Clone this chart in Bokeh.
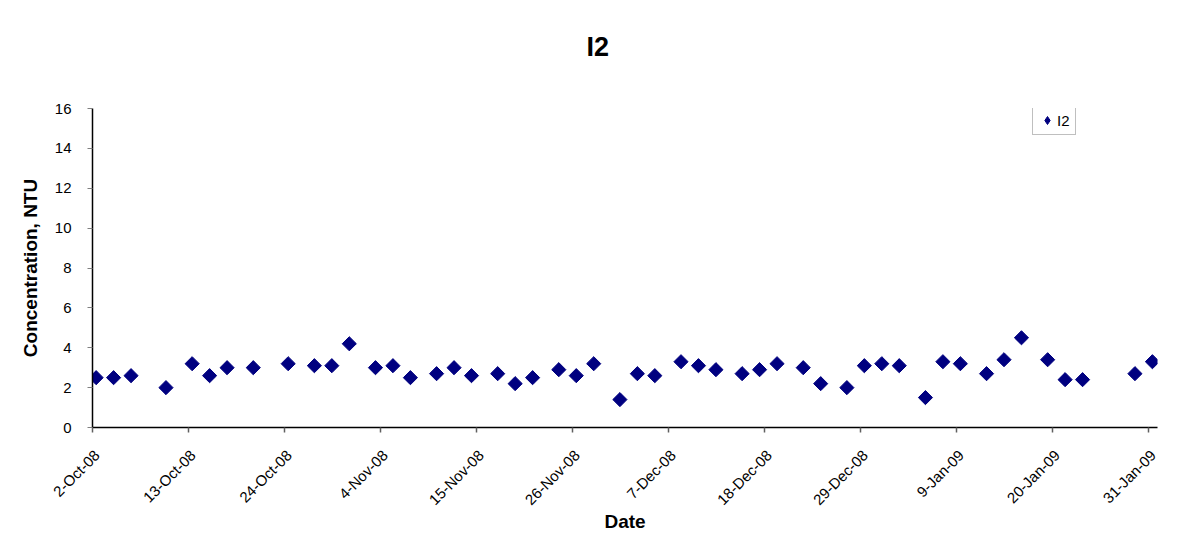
import pandas as pd
from bokeh.plotting import figure
from bokeh.models import (Range1d, FixedTicker, Legend, LegendItem, ColumnDataSource, Title, LinearAxis)
from bokeh.embed import file_html
from bokeh.resources import INLINE
import math

# ---- data ----
dates = ["2008-10-02", "2008-10-04", "2008-10-06", "2008-10-10", "2008-10-13",
         "2008-10-15", "2008-10-17", "2008-10-20", "2008-10-24", "2008-10-27",
         "2008-10-29", "2008-10-31", "2008-11-03", "2008-11-05", "2008-11-07",
         "2008-11-10", "2008-11-12", "2008-11-14", "2008-11-17", "2008-11-19",
         "2008-11-21", "2008-11-24", "2008-11-26", "2008-11-28", "2008-12-01",
         "2008-12-03", "2008-12-05", "2008-12-08", "2008-12-10", "2008-12-12",
         "2008-12-15", "2008-12-17", "2008-12-19", "2008-12-22", "2008-12-24",
         "2008-12-27", "2008-12-29", "2008-12-31", "2009-01-02", "2009-01-05",
         "2009-01-07", "2009-01-09", "2009-01-12", "2009-01-14", "2009-01-16",
         "2009-01-19", "2009-01-21", "2009-01-23", "2009-01-29", "2009-01-31"]
i2_values = [2.5, 2.5, 2.6, 2.0, 3.2, 2.6, 3.0, 3.0, 3.2, 3.1,
             3.1, 4.2, 3.0, 3.1, 2.5, 2.7, 3.0, 2.6, 2.7, 2.2,
             2.5, 2.9, 2.6, 3.2, 1.4, 2.7, 2.6, 3.3, 3.1, 2.9,
             2.7, 2.9, 3.2, 3.0, 2.2, 2.0, 3.1, 3.2, 3.1, 1.5,
             3.3, 3.2, 2.7, 3.4, 4.5, 3.4, 2.4, 2.4, 2.7, 3.3]
tick_labels = ["2-Oct-08", "13-Oct-08", "24-Oct-08", "4-Nov-08", "15-Nov-08",
               "26-Nov-08", "7-Dec-08", "18-Dec-08", "29-Dec-08", "9-Jan-09",
               "20-Jan-09", "31-Jan-09"]
y_ticks = [0, 2, 4, 6, 8, 10, 12, 14, 16]

start = pd.Timestamp("2008-10-02")
# sample times are mid-morning
x_days = [((pd.Timestamp(d) + pd.Timedelta(hours=10)) - start).total_seconds() / 86400 for d in dates]
tick_days = [(pd.Timestamp(t) - start).days for t in pd.to_datetime(tick_labels, format="%d-%b-%y")]

FONT = "Liberation Sans"
X_END = 122
LABEL_SHIFT = 0.5  # rotated labels sit slightly right of their tick, as in the original

p = figure(width=1171, height=539, output_backend="svg", toolbar_location=None,
           x_range=Range1d(0, X_END), y_range=Range1d(0, 16),
           min_border_left=92, min_border_top=108, min_border_right=14, min_border_bottom=112)
p.extra_x_ranges = {"lab": Range1d(-LABEL_SHIFT, X_END - LABEL_SHIFT)}
p.outline_line_color = None
p.xgrid.grid_line_color = None
p.ygrid.grid_line_color = None
p.background_fill_color = "white"
p.border_fill_color = "white"

# title + spacer between title and frame
p.title.text = "I2"
p.title.align = "left"
p.title.offset = 494
p.title.text_font = FONT
p.title.text_font_size = "27px"
p.title.text_font_style = "bold"
p.title.text_color = "black"
p.add_layout(Title(text=" ", text_font_size="27px"), "above")

src = ColumnDataSource(dict(x=x_days, y=i2_values))
r = p.scatter("x", "y", source=src, marker="square", angle=math.pi / 4, size=10,
              fill_color="#000080", line_color="#000080")
# legend swatch (diamond), kept outside the visible range
r_leg = p.scatter(x=[-50], y=[-50], marker="diamond", size=10,
                  fill_color="#000080", line_color="#000080")

# axes
for ax in (p.xaxis[0], p.yaxis[0]):
    ax.axis_line_color = "black"
    ax.axis_line_width = 1.5
    ax.major_tick_line_color = "#808080"
    ax.major_tick_out = 5
    ax.major_tick_in = 0
    ax.minor_tick_line_color = None
    ax.major_label_text_font = FONT
    ax.major_label_text_font_size = "15px"
    ax.major_label_text_color = "black"
    ax.axis_label_text_font = FONT
    ax.axis_label_text_font_size = "19px"
    ax.axis_label_text_font_style = "bold"
    ax.axis_label_text_color = "black"

# main x axis: line + tick marks only (ticks drawn as unlabeled minor ticks)
p.xaxis.ticker = FixedTicker(ticks=[], minor_ticks=tick_days)
p.xaxis.minor_tick_line_color = "#606060"
p.xaxis.minor_tick_line_width = 1.5
p.xaxis.minor_tick_out = 5
p.xaxis.minor_tick_in = 0
p.xaxis.major_label_standoff = 0

lab_axis = LinearAxis(x_range_name="lab", ticker=FixedTicker(ticks=tick_days),
                      major_label_overrides={d: l for d, l in zip(tick_days, tick_labels)},
                      major_label_orientation=math.pi / 4,
                      axis_line_color=None, major_tick_line_color=None, minor_tick_line_color=None,
                      major_tick_out=0, major_tick_in=0, major_label_standoff=20,
                      major_label_text_font=FONT, major_label_text_font_size="15px",
                      major_label_text_color="black",
                      axis_label="Date", axis_label_text_font=FONT, axis_label_text_font_size="19px",
                      axis_label_text_font_style="bold", axis_label_text_color="black",
                      axis_label_standoff=-6)
p.add_layout(lab_axis, "below")

p.yaxis.ticker = FixedTicker(ticks=y_ticks)
p.yaxis.axis_label = "Concentration, NTU"
p.yaxis.axis_label_standoff = 11
p.yaxis.major_label_standoff = 16

legend = Legend(items=[LegendItem(label="I2", renderers=[r_leg])], location=(940, 292),
                label_text_font=FONT, label_text_font_size="15px", label_text_color="black",
                glyph_width=20, glyph_height=20, label_standoff=0, padding=4, margin=0,
                border_line_color="#808080", border_line_width=1,
                background_fill_alpha=1, label_height=16, label_width=14)
p.add_layout(legend, "center")

open("out.html", "w").write(file_html(p, INLINE))
